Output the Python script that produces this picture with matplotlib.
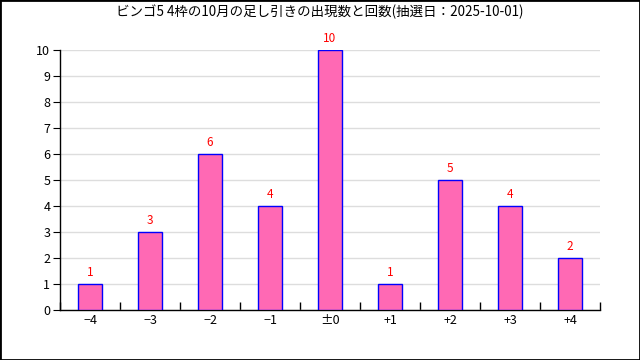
import matplotlib
matplotlib.use("Agg")
import matplotlib.pyplot as plt
from matplotlib.patches import Rectangle
import numpy as np

plt.rcParams['font.family'] = ['Noto Sans CJK JP', 'DejaVu Sans']

categories = ["−4", "−3", "−2", "−1", "±0", "+1", "+2", "+3", "+4"]
counts = [1, 3, 6, 4, 10, 1, 5, 4, 2]
title = "ビンゴ5 4枠の10月の足し引きの出現数と回数(抽選日：2025-10-01)"

fig = plt.figure(figsize=(6.4, 3.6), dpi=100)
ax = fig.add_axes([60/640, 50/360, 540/640, 260/360])

x = np.arange(len(categories))
ax.bar(x, counts, width=0.4, color="#FF69B4", edgecolor="blue", linewidth=1, zorder=3)
for xi, v in zip(x, counts):
    ax.text(xi, v + 0.2, str(v), ha="center", va="bottom", color="red", fontsize=8.5)

ax.set_xlim(-0.5, len(categories) - 0.5)
ax.set_ylim(0, 10)
ax.set_yticks(range(0, 11))
ax.tick_params(axis='y', direction='out', length=5, labelsize=9, pad=2)
ax.set_xticks(x)
ax.set_xticklabels(categories, fontsize=9)
ax.tick_params(axis='x', length=0, pad=3)
# boundary ticks pointing inward
ax.set_xticks(np.arange(-0.5, len(categories)), minor=True)
ax.tick_params(axis='x', which='minor', direction='in', length=6, width=1)
ax.grid(axis='y', color='#dddddd', linewidth=1, zorder=0)
ax.spines['top'].set_visible(False)
ax.spines['right'].set_visible(False)
ax.spines['left'].set_linewidth(1)
ax.spines['bottom'].set_linewidth(1)

fig.text(0.5, 1 - 12/360, title, ha="center", va="center", fontsize=9.7)
fig.patches.append(Rectangle((0, 0), 1, 1, transform=fig.transFigure, fill=False,
                             edgecolor='black', linewidth=2))

fig.savefig("out.png", dpi=100)
